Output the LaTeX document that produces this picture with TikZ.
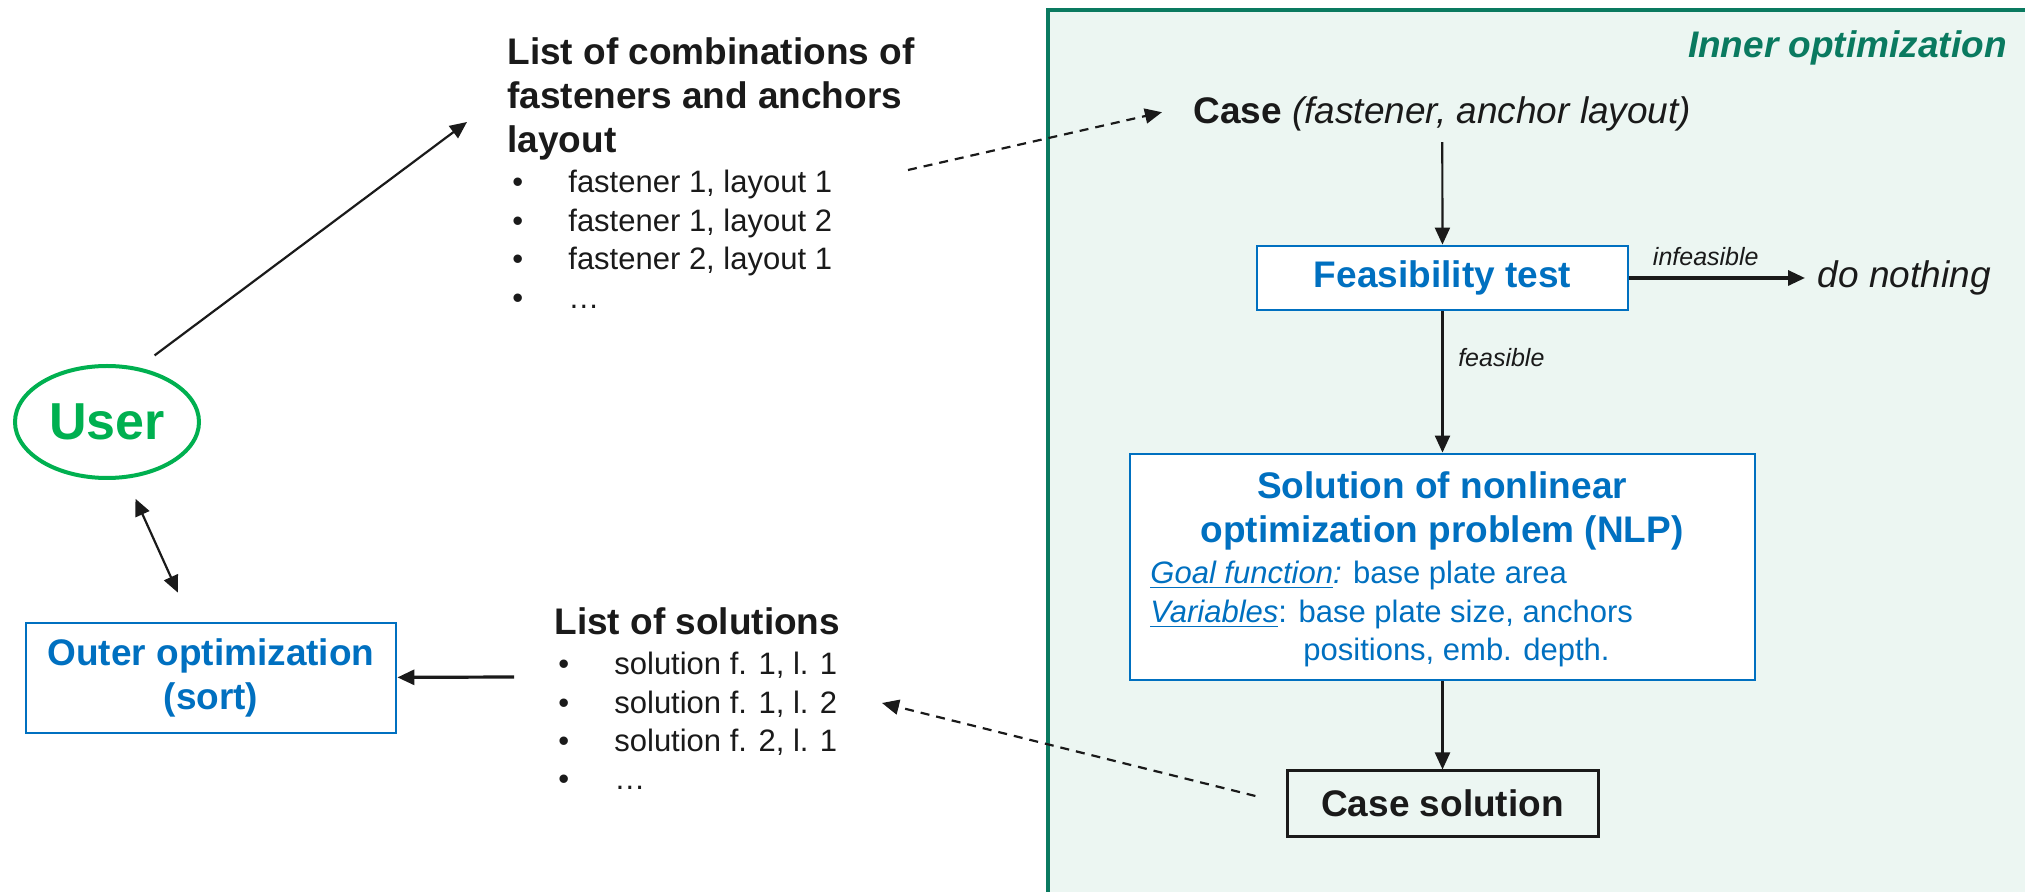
\documentclass[tikz,border=0pt]{standalone}
\usepackage{fontspec}
\setmainfont{Liberation Sans}
\usepackage{tikz}
\usetikzlibrary{
	positioning,
	shapes.geometric,
	arrows.meta
}

\definecolor{optblue}{HTML}{0070C0}
\definecolor{usergreen}{HTML}{00B050}
\definecolor{innerteal}{HTML}{0A7A60}
\definecolor{innerbg}{HTML}{ECF6F2}
\definecolor{ink}{HTML}{1A1A1A}

\newcommand{\headfont}{\fontsize{18.5}{22}\selectfont}
\newcommand{\itemfont}{\fontsize{15.5}{19.25}\selectfont}
\newcommand{\notefont}{\fontsize{12.5}{15}\selectfont}
\newcommand{\blt}{\makebox[28pt][l]{\textbullet}}

\begin{document}
\begin{tikzpicture}[
	x=0.5pt, y=-0.5pt,
	>={Triangle[length=8.5pt,width=7.5pt]},
	flow/.style={draw=ink, line width=1.1pt, ->},
	hint/.style={flow, dash pattern=on 4.5pt off 3.5pt},
	optbox/.style={draw=optblue, line width=1.4pt, fill=white, text=optblue,
		font=\headfont\bfseries, inner sep=0pt, align=center},
	txt/.style={inner sep=0pt, text=ink},
	note/.style={font=\notefont\itshape, text=ink}
]
	\useasboundingbox (0,0) rectangle (2025,892);
	\clip (0,0) rectangle (2025,892);

	% inner optimization panel
	\draw[innerteal, line width=2pt, fill=innerbg] (1048,10) rectangle (2060,920);
	\node[txt, anchor=base east, text=innerteal, font=\headfont\bfseries\itshape]
		(inner) at (2007,58) {Inner optimization};

	\node[txt, anchor=base west, inner sep=5pt, font=\headfont] (case) at (1183,124)
		{\textbf{Case} \textit{(fastener, anchor layout)}};
	\node[optbox, minimum width=185.5pt, minimum height=32pt] (feas) at (1442.5,278)
		{Feasibility test};
	\node[txt, anchor=west, inner sep=6.25pt, font=\headfont\itshape] (nothing)
		at (1805,278) {do nothing};

	\node[optbox, minimum width=312.5pt, minimum height=113pt] (nlp) at (1442.5,567) {};
	\node[txt, text=optblue, font=\headfont\bfseries, align=center, anchor=base]
		(nlptitle) at (1442,543) {Solution of nonlinear\\optimization problem (NLP)};
	\node[txt, text=optblue, font=\itemfont, anchor=base west] (goal) at (1150,584)
		{\underline{\textit{Goal function}}\textit{:} base plate area};
	\node[txt, text=optblue, font=\itemfont, anchor=base west] (vars) at (1150,623)
		{\underline{\textit{Variables}}: base plate size, anchors};
	\node[txt, text=optblue, font=\itemfont, anchor=base west] (vars2) at (1303,661)
		{positions, emb. depth.};

	\node[draw=ink, line width=1.5pt, inner sep=0pt, minimum width=155.5pt,
		minimum height=32.5pt, font=\headfont\bfseries, text=ink]
		(casesol) at (1442.5,803.5) {Case solution};

	% user side
	\node[ellipse, draw=usergreen, line width=2pt, fill=white, inner sep=0pt,
		minimum width=92pt, minimum height=56pt, text=usergreen,
		font=\fontsize{26}{30}\selectfont\bfseries] (user) at (107,422) {User};
	\node[optbox, minimum width=185pt, minimum height=55pt] (outer) at (211,678)
		{Outer optimization\\(sort)};

	\node[txt, font=\headfont\bfseries, align=left, anchor=base west] (combtitle)
		at (507,153) {List of combinations of\\fasteners and anchors\\layout};
	\foreach \entry [count=\i] in {{fastener 1, layout 1},{fastener 1, layout 2},
		{fastener 2, layout 1},{…}}
		\node[txt, font=\itemfont, anchor=base west] (comb\i)
			at (512,{193+(\i-1)*38.5}) {\blt\entry};

	\node[txt, font=\headfont\bfseries, anchor=base west] (soltitle) at (554,635)
		{List of solutions};
	\foreach \entry [count=\i] in {{solution f. 1, l. 1},{solution f. 1, l. 2},
		{solution f. 2, l. 1},{…}}
		\node[txt, font=\itemfont, anchor=base west] (sol\i)
			at (558,{675+(\i-1)*38.3}) {\blt\entry};

	\coordinate (comb-in)  at (467,122);
	\coordinate (comb-out) at (908,170);
	\coordinate (sol-in)   at (882,703);
	\coordinate (sol-out)  at (514,677);

	\draw
		(user.60) edge[flow, shorten <=10pt] (comb-in)
		([xshift=10pt]user.south) edge[flow, <->, shorten <=10.3pt, shorten >=15.9pt]
			([xshift=-10pt]outer.north)
		(sol-out) edge[flow, line width=1.6pt] (outer)
		(comb-out) edge[hint, shorten >=10.8pt] ([yshift=3.5pt]case.west)

		(case) edge[flow] (feas)
		(feas) edge[flow, line width=1.6pt] node[note, above=2pt, pos=0.435] {infeasible} (nothing)
		(feas) edge[flow] node[note, right=4pt, pos=0.33] {feasible} (nlp)
		(nlp) edge[flow] (casesol)
		(casesol.west) edge[hint, shorten <=15.5pt] (sol-in)
	;
\end{tikzpicture}
\end{document}
